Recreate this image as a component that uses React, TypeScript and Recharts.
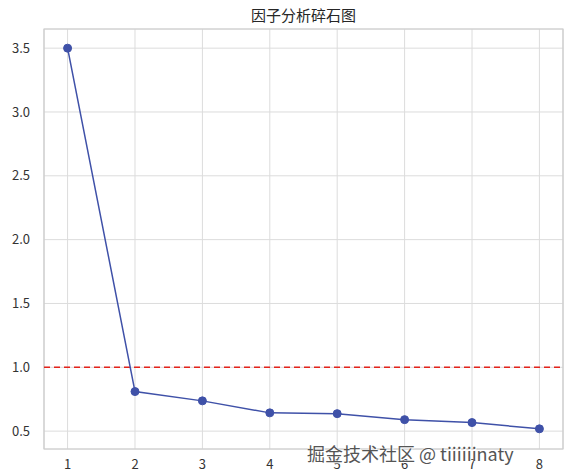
import { LineChart, Line, XAxis, YAxis, CartesianGrid, ReferenceLine, ReferenceArea } from 'recharts';

const factors = [1, 2, 3, 4, 5, 6, 7, 8];
const eigenvalues = [3.5, 0.81, 0.737, 0.643, 0.637, 0.59, 0.567, 0.518];
const xTicks = [1, 2, 3, 4, 5, 6, 7, 8];
const yTicks = [0.5, 1.0, 1.5, 2.0, 2.5, 3.0, 3.5];
const threshold = 1.0;

const data = factors.map((f, i) => ({ factor: f, value: eigenvalues[i] }));

const FONT = '"Noto Sans CJK SC", "Noto Sans", sans-serif';
const X_DOMAIN: [number, number] = [0.65, 8.35];
const Y_DOMAIN: [number, number] = [0.36, 3.65];

export default function App() {
  return (
    <div style={{ position: 'absolute', left: 0, top: 0, width: 573, height: 476, background: '#fff', fontFamily: FONT }}>
      {/* title */}
      <div style={{ position: 'absolute', top: 4, left: 44, width: 519, textAlign: 'center', fontSize: 15, color: '#262626' }}>
        因子分析碎石图
      </div>
      <LineChart width={573} height={476} data={data} margin={{ top: 29, right: 10, bottom: 0, left: 0 }}>
        <CartesianGrid stroke="#dcdcdc" strokeWidth={1} />
        <XAxis
          dataKey="factor"
          type="number"
          domain={X_DOMAIN}
          ticks={xTicks}
          height={27}
          axisLine={false}
          tickLine={false}
          tickMargin={5}
          tick={{ fill: '#333', fontSize: 13, fontFamily: FONT }}
        />
        <YAxis
          type="number"
          domain={Y_DOMAIN}
          ticks={yTicks}
          width={44}
          axisLine={false}
          tickLine={false}
          tickMargin={8}
          tickFormatter={(v: number) => v.toFixed(1)}
          tick={{ fill: '#333', fontSize: 13, fontFamily: FONT }}
        />
        <ReferenceArea x1={X_DOMAIN[0]} x2={X_DOMAIN[1]} y1={Y_DOMAIN[0]} y2={Y_DOMAIN[1]} fill="none" stroke="#cccccc" strokeWidth={1.2} />
        <ReferenceLine y={threshold} stroke="#e3231a" strokeWidth={1.5} strokeDasharray="6 4" />
        <Line
          dataKey="value"
          stroke="#3f51a8"
          strokeWidth={1.5}
          dot={{ r: 4, fill: '#3f51a8', stroke: '#3f51a8', strokeWidth: 1 }}
          isAnimationActive={false}
        />
      </LineChart>
      {/* watermark */}
      <div style={{ position: 'absolute', left: 307, top: 440, fontSize: 18, color: '#555', whiteSpace: 'nowrap', textShadow: '0 0 2px #fff, 1px 1px 0 #fff' }}>
        掘金技术社区 @ tiiiiiinaty
      </div>
    </div>
  );
}
